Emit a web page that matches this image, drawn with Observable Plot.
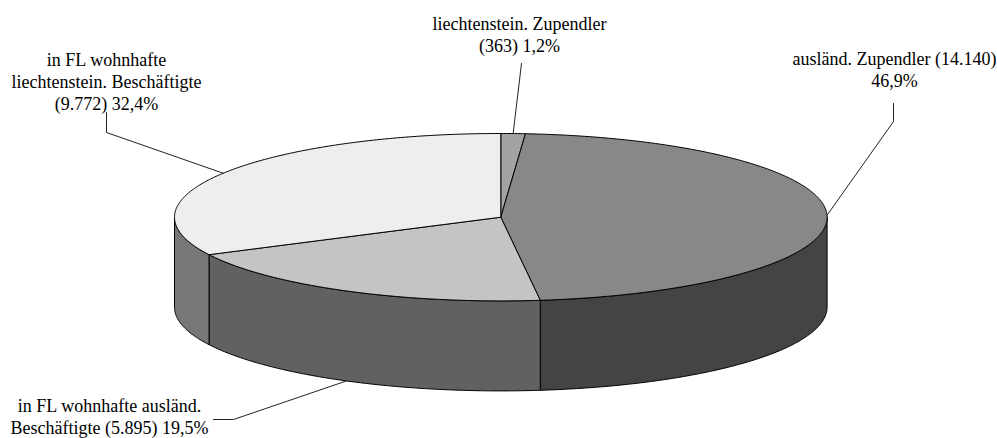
<!DOCTYPE html>
<html>
<head>
<meta charset="utf-8">
<script src="https://cdn.jsdelivr.net/npm/d3@7"></script>
<script src="https://cdn.jsdelivr.net/npm/@observablehq/plot@0.6"></script>
<style>
  html, body { margin: 0; padding: 0; background: #fff; }
  #chart svg { display: block; }
</style>
</head>
<body>
<div id="chart"></div>
<script>
// ---------- DATA ----------
const categories = [
  "liechtenstein. Zupendler",
  "ausländ. Zupendler",
  "in FL wohnhafte ausländ. Beschäftigte",
  "in FL wohnhafte liechtenstein. Beschäftigte"
];
const counts = [363, 14140, 5895, 9772];
const shareLabels = ["1,2%", "46,9%", "19,5%", "32,4%"];
const labelTexts = [
  "liechtenstein. Zupendler\n(363) 1,2%",
  "ausländ. Zupendler (14.140)\n46,9%",
  "in FL wohnhafte ausländ.\nBeschäftigte (5.895) 19,5%",
  "in FL wohnhafte\nliechtenstein. Beschäftigte\n(9.772) 32,4%"
];

// ---------- STYLE ----------
const topColors  = ["#a3a3a3", "#888888", "#c4c4c4", "#eeeeee"];
const sideColors = ["#575757", "#444444", "#616161", "#777777"];

// ---------- LAYOUT (pixels) ----------
const W = 997, H = 438;
const cx = 500.3, cy = 216.7, rx = 326.3, ry = 83.7, depthPx = 90;
const d = depthPx / ry;               // depth in y-units
const ux = px => (px - cx) / rx;      // pixel -> unit conversions for layout
const uy = py => (cy - py) / ry;

// label centres and leader start/elbow points (pixel layout), per slice
const labelLayout = [
  { at: [519, 33.7],  path: [[521, 63]] },
  { at: [894, 68.4],  path: [[893, 103], [893, 121]] },
  { at: [109, 415.4], path: [[213, 419], [233, 419]] },
  { at: [106, 80.2],  path: [[106, 112], [106, 132]] }
];

// ---------- GEOMETRY from data ----------
const total = d3.sum(counts);
let cum = 0;
const slices = counts.map((v, i) => {
  const a0 = cum / total * 2 * Math.PI;
  cum += v;
  const a1 = cum / total * 2 * Math.PI;
  return { i, a0, a1, mid: (a0 + a1) / 2 };
});

const topPt = a => ({ x: Math.sin(a), y: Math.cos(a) });
const botPt = a => ({ x: Math.sin(a), y: Math.cos(a) - d });
function arc(a0, a1, f) {
  const n = Math.max(2, Math.ceil(Math.abs(a1 - a0) / (Math.PI / 360)));
  return d3.range(n + 1).map(k => f(a0 + (a1 - a0) * k / n));
}

const topPolys = slices.map(s => [{ x: 0, y: 0 }, ...arc(s.a0, s.a1, topPt), { x: 0, y: 0 }]);

const sidePolys = slices.map(s => {
  const lo = Math.max(s.a0, Math.PI / 2), hi = Math.min(s.a1, 3 * Math.PI / 2);
  if (hi <= lo) return null;
  const top = arc(lo, hi, topPt);
  const bot = arc(hi, lo, botPt);
  return [...top, ...bot, top[0]];
});

const leaders = slices.map((s, i) => {
  const front = Math.cos(s.mid) < 0;
  const end = front ? botPt(s.mid) : topPt(s.mid);
  const pts = labelLayout[i].path.map(([px, py]) => ({ x: ux(px), y: uy(py) }));
  return [...pts, end];
});

const labels = slices.map((s, i) => ({
  x: ux(labelLayout[i].at[0]),
  y: uy(labelLayout[i].at[1]),
  text: labelTexts[i]
}));

// ---------- MARKS ----------
const marks = [];
sidePolys.forEach((p, i) => {
  if (p) marks.push(Plot.line(p, { x: "x", y: "y", fill: sideColors[i], stroke: "#000", strokeWidth: 1, strokeLinejoin: "round" }));
});
topPolys.forEach((p, i) => {
  marks.push(Plot.line(p, { x: "x", y: "y", fill: topColors[i], stroke: "#000", strokeWidth: 1, strokeLinejoin: "round" }));
});
leaders.forEach(p => {
  marks.push(Plot.line(p, { x: "x", y: "y", stroke: "#222", strokeWidth: 1 }));
});
marks.push(Plot.text(labels, {
  x: "x", y: "y", text: "text",
  fontSize: 18, lineHeight: 1.22,
  fontFamily: "'Liberation Serif', 'Times New Roman', serif",
  textAnchor: "middle", lineAnchor: "middle", fill: "#000"
}));

const chart = Plot.plot({
  width: W, height: H,
  margin: 0,
  x: { domain: [-1, 1], range: [cx - rx, cx + rx], axis: null },
  y: { domain: [-1, 1], range: [cy + ry, cy - ry], axis: null },
  style: { background: "#fff", fontFamily: "'Liberation Serif', serif", overflow: "visible" },
  marks
});
document.getElementById("chart").appendChild(chart);
</script>
</body>
</html>
